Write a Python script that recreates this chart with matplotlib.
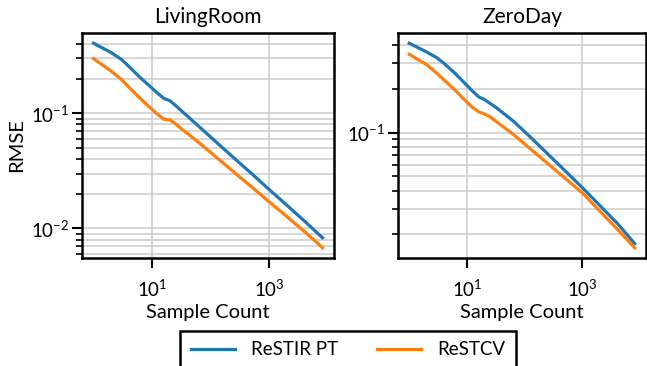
import matplotlib
matplotlib.use("Agg")
import matplotlib.pyplot as plt
from matplotlib.ticker import NullLocator, LogLocator

plt.rcParams["font.family"] = ["Lato", "DejaVu Sans"]
plt.rcParams["mathtext.fontset"] = "custom"
plt.rcParams["mathtext.rm"] = "Lato"
plt.rcParams["mathtext.it"] = "Lato:italic"

# sample counts on the x axis
SAMPLES = [1, 2, 3, 4, 6, 8, 12, 16, 20, 24, 32, 64, 128, 256, 512, 1024, 2048, 4096, 8192]

SCENES = ["LivingRoom", "ZeroDay"]
METHODS = ["ReSTIR PT", "ReSTCV"]
COLORS = ["#1f77b4", "#ff7f0e"]

living_restir = [0.406, 0.337, 0.294, 0.256, 0.209, 0.183, 0.152, 0.1345, 0.129, 0.1197, 0.105,
                 0.0765, 0.0557, 0.0406, 0.0297, 0.0216, 0.0158, 0.0115, 0.0083]
living_restcv = [0.299, 0.233, 0.197, 0.169, 0.138, 0.120, 0.0996, 0.0887, 0.0879, 0.0829, 0.0733,
                 0.0555, 0.0412, 0.0306, 0.0228, 0.0169, 0.0126, 0.00935, 0.0068]
zero_restir = [0.411, 0.358, 0.327, 0.299, 0.259, 0.231, 0.196, 0.176, 0.169, 0.161, 0.149,
               0.120, 0.0928, 0.0711, 0.0545, 0.0416, 0.0315, 0.0238, 0.0173]
zero_restcv = [0.345, 0.293, 0.256, 0.230, 0.199, 0.177, 0.151, 0.139, 0.1346, 0.130, 0.1197,
               0.0973, 0.0771, 0.0611, 0.0484, 0.0384, 0.0288, 0.0217, 0.0162]

DATA = {
    "LivingRoom": [living_restir, living_restcv],
    "ZeroDay": [zero_restir, zero_restcv],
}

fig = plt.figure(figsize=(6.47, 3.66), dpi=100)
ax_pos = [
    [82 / 647, 108 / 366, 252 / 647, 225 / 366],
    [398 / 647, 108 / 366, 248 / 647, 225 / 366],
]

handles = []
for i, scene in enumerate(SCENES):
    ax = fig.add_axes(ax_pos[i])
    for j, method in enumerate(METHODS):
        (line,) = ax.plot(SAMPLES, DATA[scene][j], color=COLORS[j], lw=2.3, label=method)
        if i == 0:
            handles.append(line)
    ax.set_xscale("log")
    ax.set_yscale("log")
    ax.set_xticks([10, 1000])
    ax.xaxis.set_minor_locator(NullLocator())
    ax.yaxis.set_minor_locator(LogLocator(base=10, subs=range(2, 10)))
    ax.grid(True, which="major", axis="x", color="#cccccc", lw=1.1)
    ax.grid(True, which="both", axis="y", color="#cccccc", lw=1.1)
    ax.set_axisbelow(True)
    for s in ax.spines.values():
        s.set_linewidth(1.8)
    ax.tick_params(which="major", length=7.5, width=1.5, labelsize=13.5)
    ax.tick_params(which="minor", length=4, width=1.2)
    ax.tick_params(axis="x", pad=7)
    ax.tick_params(axis="y", pad=1.5)
    ax.set_title(scene, fontsize=15, pad=7)
    ax.set_xlabel("Sample Count", fontsize=14.5, labelpad=3)
    if i == 0:
        ax.set_ylabel("RMSE", fontsize=14.5, labelpad=4)

leg = fig.legend(handles=handles, labels=METHODS, loc="upper center",
                 bbox_to_anchor=(348 / 647, 35 / 366), ncol=2, fontsize=13.5,
                 fancybox=False, edgecolor="black", framealpha=1, borderaxespad=0,
                 handlelength=2.35, handletextpad=0.85, columnspacing=2.1, borderpad=0.55)
leg.get_frame().set_linewidth(1.8)

fig.savefig("out.png", dpi=100)
